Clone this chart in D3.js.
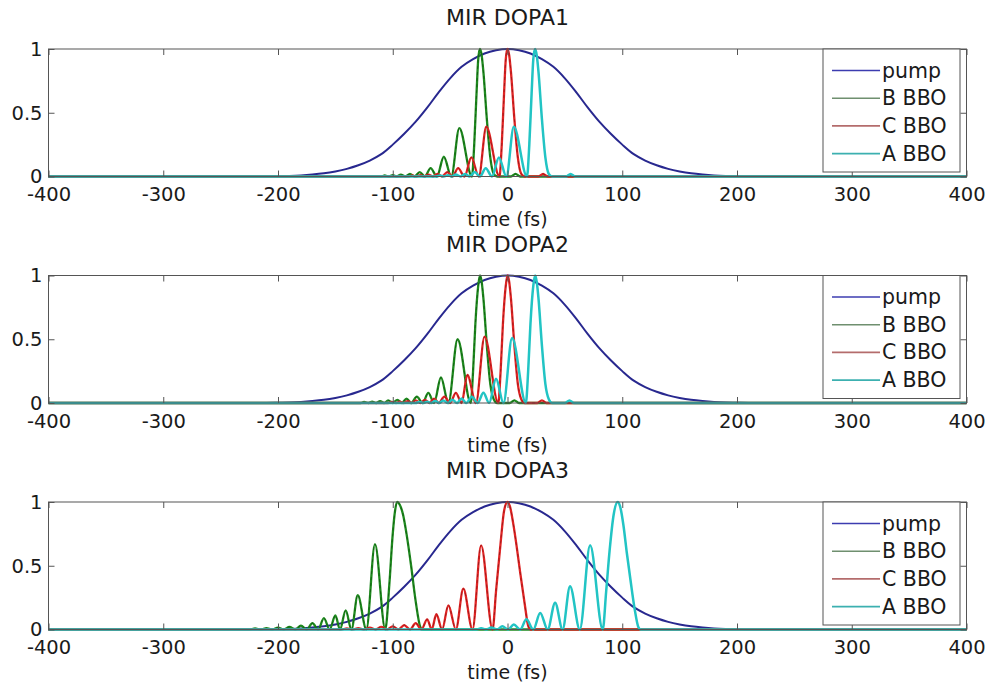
<!DOCTYPE html>
<html>
<head>
<meta charset="utf-8">
<script src="https://cdn.jsdelivr.net/npm/d3@7"></script>
<style>
  html, body { margin: 0; padding: 0; background: #fff; }
  svg { display: block; }
  text { font-family: "DejaVu Sans", "Liberation Sans", sans-serif; fill: #1a1a1a; }
</style>
</head>
<body>
<svg id="chart" width="991" height="682"></svg>
<script>
// ---------- data ----------
const panelTitles = ["MIR DOPA1", "MIR DOPA2", "MIR DOPA3"];
const seriesNames = ["pump", "B BBO", "C BBO", "A BBO"];
const timeTicks = [-400, -300, -200, -100, 0, 100, 200, 300, 400];
const yTicks = [0, 0.5, 1];

// pump pulse (same in every panel)
const pumpT = [-400, -210, -200, -190, -180, -170, -160, -150, -140, -130, -120, -110, -100, -90, -80, -70, -60, -50, -40, -30, -20, -10, 0,
               10, 20, 30, 40, 50, 60, 70, 80, 90, 100, 110, 120, 130, 140, 150, 160, 170, 180, 190, 200, 210, 400];
const pumpV = [0, 0, 0.002, 0.004, 0.008, 0.015, 0.025, 0.04, 0.06, 0.088, 0.125, 0.175, 0.25, 0.335, 0.43, 0.54, 0.66, 0.77, 0.86, 0.92, 0.965, 0.99, 1,
               0.99, 0.965, 0.92, 0.86, 0.77, 0.66, 0.54, 0.43, 0.335, 0.25, 0.175, 0.125, 0.088, 0.06, 0.04, 0.025, 0.015, 0.008, 0.004, 0.002, 0, 0];

// MIR DOPA1  [time (fs), normalised intensity]
const dopa1B = [[-400,0],[-119,0],[-110,0],[-107,0.008],[-103.5,0],[-100,0.01],[-96.5,0],[-93,0.015],[-89,0],[-85,0.02],[-81,0],[-76.5,0.035],[-72,0],[-67,0.065],[-61.5,0],[-55.5,0.155],[-49,0],[-42,0.38],[-31,0],[-29,0.25],[-27,0.65],[-25.5,0.92],[-24,1],[-22.5,0.95],[-21,0.82],[-18,0.45],[-15,0.15],[-12,0.02],[-9,0],[3,0],[7,0.02],[11,0],[400,0]];
const dopa1C = [[-400,0],[-95,0],[-86,0],[-83,0.008],[-79.5,0],[-76,0.01],[-72.5,0],[-69,0.015],[-65,0],[-61,0.02],[-57,0],[-52.5,0.035],[-48,0],[-43,0.065],[-37.5,0],[-31.5,0.15],[-25,0],[-18.5,0.39],[-7,0],[-5,0.25],[-3,0.65],[-1.5,0.92],[0,1],[1.5,0.95],[3,0.82],[6,0.45],[9,0.15],[12,0.02],[15,0],[27,0],[31,0.02],[35,0],[400,0]];
const dopa1A = [[-400,0],[-71,0],[-62,0],[-59,0.008],[-55.5,0],[-52,0.01],[-48.5,0],[-45,0.015],[-41,0],[-37,0.02],[-33,0],[-28.5,0.035],[-24,0],[-19,0.065],[-13.5,0],[-7.5,0.15],[-1,0],[5.5,0.39],[17,0],[19,0.25],[21,0.65],[22.5,0.92],[24,1],[25.5,0.95],[27,0.82],[30,0.45],[33,0.15],[36,0.02],[39,0],[51,0],[55,0.02],[59,0],[400,0]];

// MIR DOPA2
const dopa2B = [[-400,0],[-128,0],[-125,0.008],[-121,0],[-118,0.01],[-114.5,0],[-111,0.015],[-107.5,0],[-104,0.02],[-100,0],[-96,0.025],[-92,0],[-88,0.035],[-84,0],[-79,0.05],[-74,0],[-69,0.08],[-64,0],[-58,0.2],[-51.5,0],[-43.5,0.5],[-32,0],[-30,0.25],[-28,0.62],[-25.5,0.92],[-24,1],[-22.5,0.95],[-21,0.82],[-18,0.45],[-15,0.15],[-12,0.03],[-9,0],[2,0],[6,0.02],[10,0],[400,0]];
const dopa2C = [[-400,0],[-104,0],[-101,0.008],[-97,0],[-94,0.01],[-90.5,0],[-87,0.015],[-83.5,0],[-80,0.02],[-76,0],[-72,0.025],[-68,0],[-64,0.035],[-60,0],[-55,0.05],[-50,0],[-45,0.08],[-40,0],[-35,0.22],[-27.5,0],[-20,0.52],[-8,0],[-6,0.25],[-4,0.62],[-1.5,0.92],[0,1],[1.5,0.95],[3,0.82],[6,0.45],[9,0.15],[12,0.03],[15,0],[26,0],[30,0.02],[34,0],[400,0]];
const dopa2A = [[-400,0],[-80,0],[-77,0.008],[-73,0],[-70,0.01],[-66.5,0],[-63,0.015],[-59.5,0],[-56,0.02],[-52,0],[-48,0.025],[-44,0],[-40,0.035],[-36,0],[-31,0.05],[-26,0],[-21,0.08],[-16,0],[-10,0.19],[-3.5,0],[4,0.51],[16,0],[18,0.25],[20,0.62],[22.5,0.92],[24,1],[25.5,0.95],[27,0.82],[30,0.45],[33,0.15],[36,0.03],[39,0],[50,0],[54,0.02],[58,0],[400,0]];

// MIR DOPA3
const dopa3B = [[-400,0],[-225,0],[-220,0.008],[-215,0],[-210,0.01],[-205,0],[-200,0.015],[-195,0],[-190,0.02],[-185,0],[-180,0.03],[-175,0],[-170,0.05],[-165,0],[-160,0.09],[-155,0],[-150,0.11],[-146,0],[-141,0.15],[-136,0],[-130.5,0.27],[-123,0],[-115.5,0.67],[-106.5,0],[-103,0.35],[-100,0.75],[-98,0.93],[-96,1],[-94,0.98],[-91,0.9],[-88,0.75],[-84,0.5],[-80,0.22],[-76,0.02],[-74,0],[400,0]];
const dopa3C = [[-400,0],[-145,0],[-140,0.008],[-135,0],[-130,0.01],[-125,0],[-120,0.015],[-115,0],[-110,0.02],[-105,0],[-100,0.025],[-95,0],[-90,0.035],[-85,0],[-80,0.05],[-75,0],[-70,0.08],[-66,0],[-62,0.12],[-57,0],[-51.5,0.19],[-45,0],[-38.5,0.32],[-30.5,0],[-23,0.66],[-13,0],[-10,0.3],[-6,0.68],[-3,0.93],[0,1],[2,0.97],[5,0.83],[8,0.65],[11,0.45],[15,0.2],[18,0.03],[20,0],[400,0]];
const dopa3A = [[-400,0],[-27,0],[-23,0.01],[-18.5,0],[-14,0.015],[-9,0],[-4.5,0.025],[0.5,0],[5.5,0.04],[11,0],[16.5,0.08],[22.5,0],[28.5,0.13],[35,0],[41.5,0.21],[48,0],[54.5,0.34],[63,0],[72,0.66],[83,0],[86,0.3],[89,0.62],[92.5,0.9],[96,1],[98,0.97],[101,0.82],[104,0.6],[107,0.4],[111,0.15],[114,0.02],[116,0],[400,0]];

const panelSeries = [
  [dopa1B, dopa1C, dopa1A],
  [dopa2B, dopa2C, dopa2A],
  [dopa3B, dopa3C, dopa3A]
];

// ---------- styling ----------
const pumpColor = "#28288f";
const seriesColors = ["#1f8a1f", "#e02424", "#22c4c4"];
const seriesDark = ["#0c4f0c", "#861414", "#0f7878"];
const legendColors = ["#3c3cb0", "#6f8f6f", "#b46c6c", "#3cb0b0"];

const svg = d3.select("#chart");
const x = d3.scaleLinear().domain([-400, 400]).range([48.5, 966.5]);

panelTitles.forEach((title, i) => {
  const top = 49 + i * 226.5;
  const bottom = top + 127.5;
  const y = d3.scaleLinear().domain([0, 1]).range([bottom, top]);
  const g = svg.append("g");

  // title
  g.append("text")
    .attr("x", x(0)).attr("y", top - 24)
    .attr("text-anchor", "middle")
    .style("font-size", "22px")
    .text(title);

  // curves
  const line = d3.line().x(d => x(d[0])).y(d => y(d[1])).curve(d3.curveMonotoneX);
  const smooth = d3.line().x(d => x(d[0])).y(d => y(d[1])).curve(d3.curveCatmullRom.alpha(0.5));
  const pumpData = pumpT.map((t, k) => [t, pumpV[k]]);
  g.append("path").datum(pumpData)
    .attr("d", smooth).attr("fill", "none")
    .attr("stroke", pumpColor).attr("stroke-width", 2);

  panelSeries[i].forEach((data, s) => {
    const dashed = () => g.append("path").datum(data)
      .attr("d", line).attr("fill", "none")
      .attr("stroke", seriesDark[s]).attr("stroke-width", 1)
      .attr("stroke-dasharray", "3,3").attr("opacity", 0.65);
    if (s === 2) dashed();
    g.append("path").datum(data)
      .attr("d", line).attr("fill", "none")
      .attr("stroke", seriesColors[s]).attr("stroke-width", s === 2 ? 2.5 : 2.3);
    if (s !== 2) dashed();
  });

  // frame
  g.append("rect")
    .attr("x", x(-400)).attr("y", top)
    .attr("width", x(400) - x(-400)).attr("height", bottom - top)
    .attr("fill", "none").attr("stroke", "#555").attr("stroke-width", 1);

  // axes (ticks inside)
  const xb = g.append("g").attr("transform", `translate(0,${bottom})`)
    .call(d3.axisBottom(x).tickValues(timeTicks).tickSizeInner(-6).tickSizeOuter(0)
      .tickPadding(11).tickFormat(d => String(d)));
  xb.select(".domain").remove();
  xb.selectAll("line").attr("stroke", "#555");
  xb.selectAll("text").style("font-size", "19.5px").attr("fill", "#1a1a1a");

  const xt = g.append("g").attr("transform", `translate(0,${top})`)
    .call(d3.axisTop(x).tickValues(timeTicks).tickSizeInner(-6).tickSizeOuter(0).tickFormat(""));
  xt.select(".domain").remove();
  xt.selectAll("line").attr("stroke", "#555");

  const yl = g.append("g").attr("transform", `translate(${x(-400)},0)`)
    .call(d3.axisLeft(y).tickValues(yTicks).tickSizeInner(-6).tickSizeOuter(0)
      .tickPadding(6).tickFormat(d => String(d)));
  yl.select(".domain").remove();
  yl.selectAll("line").attr("stroke", "#555");
  yl.selectAll("text").style("font-size", "19.5px").attr("fill", "#1a1a1a");

  const yr = g.append("g").attr("transform", `translate(${x(400)},0)`)
    .call(d3.axisRight(y).tickValues(yTicks).tickSizeInner(-6).tickSizeOuter(0).tickFormat(""));
  yr.select(".domain").remove();
  yr.selectAll("line").attr("stroke", "#555");

  // x label
  g.append("text")
    .attr("x", x(0)).attr("y", bottom + 49)
    .attr("text-anchor", "middle")
    .style("font-size", "19px")
    .text("time (fs)");

  // legend
  const lx = 823, ly = top;
  const lg = g.append("g");
  lg.append("rect").attr("x", lx).attr("y", ly).attr("width", 137).attr("height", 123)
    .attr("fill", "#fff").attr("stroke", "#555").attr("stroke-width", 1);
  seriesNames.forEach((name, k) => {
    const cy = ly + 21.5 + k * 27.7;
    lg.append("line").attr("x1", lx + 9).attr("x2", lx + 57)
      .attr("y1", cy).attr("y2", cy)
      .attr("stroke", legendColors[k]).attr("stroke-width", 1.6);
    lg.append("text").attr("x", lx + 59).attr("y", cy + 7)
      .style("font-size", "20.5px").text(name);
  });
});
</script>
</body>
</html>
